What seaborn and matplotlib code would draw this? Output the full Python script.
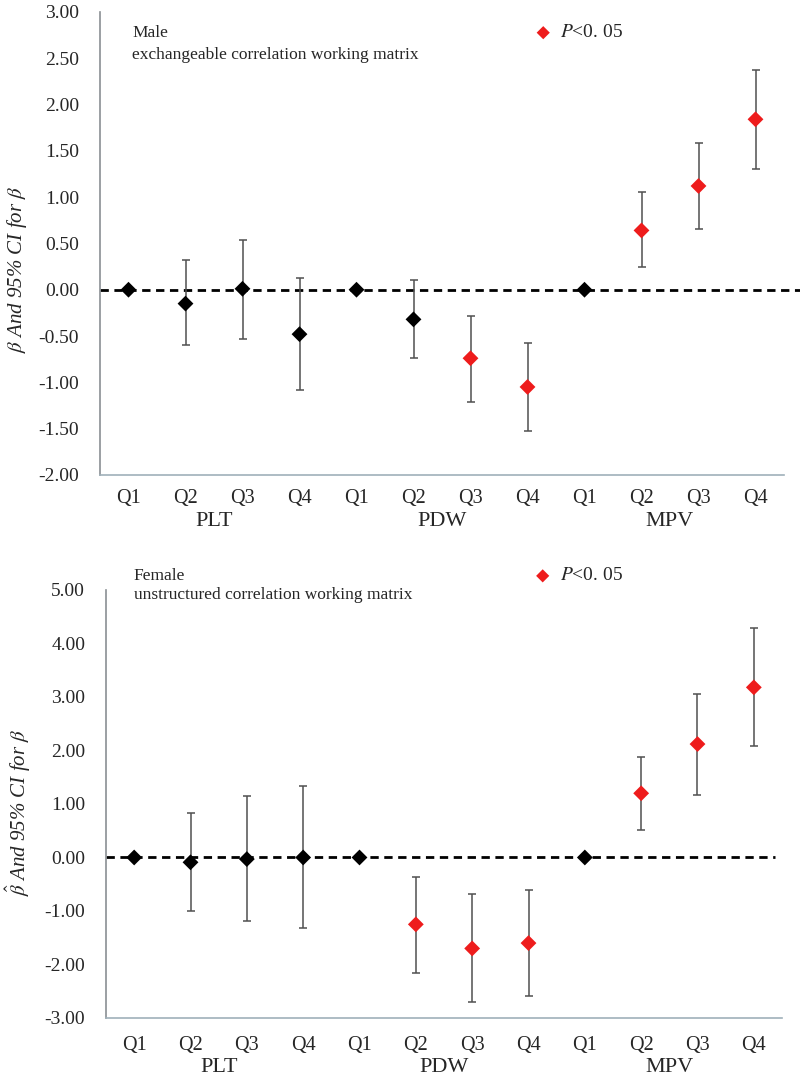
import matplotlib
matplotlib.use("Agg")
import matplotlib.pyplot as plt
import numpy as np
import pandas as pd
import seaborn as sns

# categories
quartiles = ["Q1", "Q2", "Q3", "Q4"] * 3
groups = ["PLT", "PDW", "MPV"]

# male, exchangeable correlation working matrix
male_beta = [0.00, -0.15, 0.01, -0.48, 0.00, -0.32, -0.74, -1.05, 0.00, 0.64, 1.12, 1.84]
male_lo = [0.00, -0.60, -0.53, -1.08, 0.00, -0.74, -1.21, -1.53, 0.00, 0.24, 0.66, 1.30]
male_hi = [0.00, 0.32, 0.54, 0.13, 0.00, 0.10, -0.28, -0.58, 0.00, 1.05, 1.58, 2.37]
male_sig = [False, False, False, False, False, False, True, True, False, True, True, True]

# female, unstructured correlation working matrix
female_beta = [0.00, -0.09, -0.03, 0.00, 0.00, -1.25, -1.70, -1.60, 0.00, 1.20, 2.12, 3.18]
female_lo = [0.00, -1.00, -1.18, -1.31, 0.00, -2.16, -2.71, -2.59, 0.00, 0.52, 1.17, 2.08]
female_hi = [0.00, 0.83, 1.15, 1.34, 0.00, -0.36, -0.69, -0.61, 0.00, 1.88, 3.06, 4.29]
female_sig = [False, False, False, False, False, True, True, True, False, True, True, True]

male_ticks = [3.0, 2.5, 2.0, 1.5, 1.0, 0.5, 0.0, -0.5, -1.0, -1.5, -2.0]
female_ticks = [5.0, 4.0, 3.0, 2.0, 1.0, 0.0, -1.0, -2.0, -3.0]

sns.set_style("white")
plt.rcParams["font.family"] = ["Liberation Serif", "DejaVu Serif"]
plt.rcParams["mathtext.fontset"] = "stix"

RED = "#ee1c1c"
AXIS_GREY = "#8a8f93"
X_AXIS = "#9fb0ba"


def draw_panel(ax, beta, lo, hi, sig, ticks, line1, line2, ylabel, text_y, label_y, group_y, line_end,
               qpad):
    df = pd.DataFrame({"pos": np.arange(len(beta)), "beta": beta, "lo": lo, "hi": hi, "sig": sig})
    ci = df[df["hi"] != df["lo"]]
    ax.errorbar(ci["pos"], ci["beta"], yerr=[ci["beta"] - ci["lo"], ci["hi"] - ci["beta"]],
                fmt="none", ecolor="#505050", elinewidth=1.1, capsize=3, capthick=1.1, zorder=2)
    ax.axhline(0, xmax=line_end, color="black", lw=2.0, ls=(0, (3, 2)), zorder=1, clip_on=False)
    sns.scatterplot(data=df, x="pos", y="beta", hue="sig", palette={False: "black", True: RED},
                    marker="D", s=65, edgecolor="none", legend=False, ax=ax, zorder=3)

    ax.set_xlim(-0.5, len(beta) - 0.5)
    ax.set_ylim(min(ticks), max(ticks))
    ax.set_yticks(ticks)
    ax.set_yticklabels(["%.2f" % t for t in ticks])
    ax.set_xticks(np.arange(-0.5, len(beta)))
    ax.set_xticklabels([])
    ax.set_xticks(np.arange(len(beta)), minor=True)
    ax.set_xticklabels(quartiles, minor=True)
    ax.tick_params(axis="x", which="major", direction="in", length=5, color=X_AXIS, width=1)
    ax.tick_params(axis="x", which="minor", length=0, pad=qpad, labelsize=14.5)
    ax.tick_params(axis="y", direction="in", length=5, color=AXIS_GREY, width=1, pad=15, labelsize=14)
    ax.set_xlabel("")
    ax.set_ylabel(ylabel, fontsize=15, style="italic")
    ax.yaxis.set_label_coords(label_y[0], label_y[1])

    for side in ["top", "right"]:
        ax.spines[side].set_visible(False)
    ax.spines["left"].set_color(AXIS_GREY)
    ax.spines["bottom"].set_color(X_AXIS)
    ax.spines["left"].set_linewidth(1.2)
    ax.spines["bottom"].set_linewidth(1.2)

    tr = ax.get_xaxis_transform()
    for i, g in enumerate(groups):
        ax.text(4 * i + 1.5, group_y, g, transform=tr, ha="center", va="center", fontsize=16)

    ax.text(text_y[0], text_y[1], line1, transform=ax.transAxes, fontsize=12.5, va="center")
    ax.text(text_y[0], text_y[2], line2, transform=ax.transAxes, fontsize=12.5, va="center")
    ax.scatter([text_y[3]], [text_y[1]], transform=ax.transAxes, marker="D", s=45, color=RED,
               edgecolor="none", clip_on=False)
    ax.text(text_y[4], text_y[1], "$P$<0. 05", transform=ax.transAxes, fontsize=14, va="center")


fig = plt.figure(figsize=(8, 10.77), dpi=100)
ax1 = fig.add_axes([0.125, 0.559, 0.855, 0.430])
ax2 = fig.add_axes([0.1325, 0.0548, 0.845, 0.3974])

draw_panel(ax1, male_beta, male_lo, male_hi, male_sig, male_ticks,
           "Male", "exchangeable correlation working matrix", r"$\beta$ And 95% CI for $\beta$",
           text_y=(0.047, 0.955, 0.907, 0.648, 0.672), label_y=(-0.104, 0.443), group_y=-0.100,
           line_end=1.023, qpad=10)
draw_panel(ax2, female_beta, female_lo, female_hi, female_sig, female_ticks,
           "Female", "unstructured correlation working matrix", r"$\hat{\beta}$ And 95% CI for $\beta$",
           text_y=(0.041, 1.033, 0.988, 0.646, 0.671), label_y=(-0.108, 0.48), group_y=-0.116,
           line_end=0.99, qpad=13)

fig.savefig("out.png", dpi=100)
